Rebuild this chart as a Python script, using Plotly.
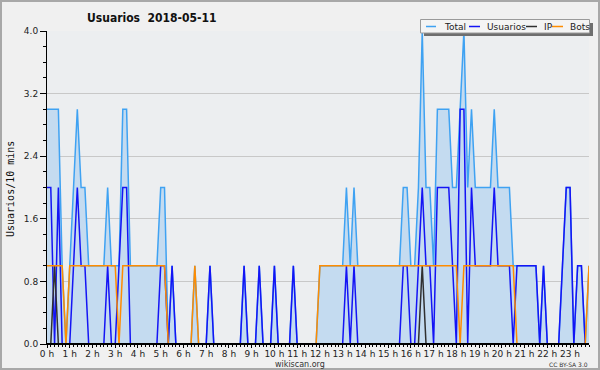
import plotly.graph_objects as go
import pandas as pd

# ---------------- data ----------------
TIMES = pd.date_range("2018-05-11 00:00", periods=144, freq="10min")
HOUR_TICKS = pd.date_range("2018-05-11 00:00", periods=24, freq="1h")
HOUR_LABELS = ["0 h", "1 h", "2 h", "3 h", "4 h", "5 h", "6 h", "7 h", "8 h", "9 h",
               "10 h", "11 h", "12 h", "13 h", "14 h", "15 h", "16 h", "17 h", "18 h",
               "19 h", "20 h", "21 h", "22 h", "23 h"]
Y_TICKS = [0.0, 0.8, 1.6, 2.4, 3.2, 4.0]

TOTAL = [3, 3, 3, 3, 1, 0, 1, 2, 3, 2,
         2, 1, 1, 1, 1, 1, 2, 1, 1, 1,
         3, 3, 1, 1, 1, 1, 1, 1, 1, 1,
         2, 2, 0, 1, 0, 0, 0, 0, 0, 1,
         0, 0, 0, 1, 0, 0, 0, 0, 0, 0,
         0, 0, 1, 0, 0, 0, 1, 0, 0, 0,
         1, 0, 0, 0, 0, 1, 0, 0, 0, 0,
         0, 0, 1, 1, 1, 1, 1, 1, 1, 2,
         1, 2, 1, 1, 1, 1, 1, 1, 1, 1,
         1, 1, 1, 1, 2, 2, 1, 1, 2, 4,
         2, 2, 1, 3, 3, 3, 3, 2, 2, 3,
         4, 2, 3, 2, 2, 2, 2, 2, 3, 2,
         2, 2, 2, 1, 1, 1, 1, 1, 1, 1,
         0, 1, 0, 0, 0, 0, 1, 2, 2, 0,
         1, 1, 0, 1]

USUARIOS = [2, 2, 0, 2, 0, 0, 0, 1, 2, 1,
            1, 0, 0, 0, 0, 0, 1, 0, 0, 1,
            2, 2, 0, 0, 0, 0, 0, 0, 0, 0,
            1, 1, 0, 1, 0, 0, 0, 0, 0, 0,
            0, 0, 0, 1, 0, 0, 0, 0, 0, 0,
            0, 0, 1, 0, 0, 0, 1, 0, 0, 0,
            1, 0, 0, 0, 0, 1, 0, 0, 0, 0,
            0, 0, 0, 0, 0, 0, 0, 0, 0, 1,
            0, 1, 0, 0, 0, 0, 0, 0, 0, 0,
            0, 0, 0, 0, 1, 1, 0, 0, 1, 2,
            1, 1, 0, 2, 2, 2, 2, 1, 0, 3,
            3, 0, 2, 1, 1, 1, 1, 1, 2, 1,
            1, 1, 1, 0, 1, 1, 1, 1, 1, 1,
            0, 1, 0, 0, 0, 0, 1, 2, 2, 0,
            1, 1, 0, 0]

IP = [0, 0, 1, 0, 0, 0, 0, 0, 0, 0,
      0, 0, 0, 0, 0, 0, 0, 0, 0, 0,
      0, 0, 0, 0, 0, 0, 0, 0, 0, 0,
      0, 0, 0, 0, 0, 0, 0, 0, 0, 0,
      0, 0, 0, 0, 0, 0, 0, 0, 0, 0,
      0, 0, 0, 0, 0, 0, 0, 0, 0, 0,
      0, 0, 0, 0, 0, 0, 0, 0, 0, 0,
      0, 0, 0, 0, 0, 0, 0, 0, 0, 0,
      0, 0, 0, 0, 0, 0, 0, 0, 0, 0,
      0, 0, 0, 0, 0, 0, 0, 0, 0, 1,
      0, 0, 0, 0, 0, 0, 0, 0, 0, 0,
      0, 0, 0, 0, 0, 0, 0, 0, 0, 0,
      0, 0, 0, 0, 0, 0, 0, 0, 0, 0,
      0, 0, 0, 0, 0, 0, 0, 0, 0, 0,
      0, 0, 0, 0]

BOTS = [1, 1, 1, 1, 1, 0, 1, 1, 1, 1,
        1, 1, 1, 1, 1, 1, 1, 1, 1, 0,
        1, 1, 1, 1, 1, 1, 1, 1, 1, 1,
        1, 1, 0, 0, 0, 0, 0, 0, 0, 1,
        0, 0, 0, 0, 0, 0, 0, 0, 0, 0,
        0, 0, 0, 0, 0, 0, 0, 0, 0, 0,
        0, 0, 0, 0, 0, 0, 0, 0, 0, 0,
        0, 0, 1, 1, 1, 1, 1, 1, 1, 1,
        1, 1, 1, 1, 1, 1, 1, 1, 1, 1,
        1, 1, 1, 1, 1, 1, 1, 1, 1, 1,
        1, 1, 1, 1, 1, 1, 1, 1, 1, 0,
        1, 1, 1, 1, 1, 1, 1, 1, 1, 1,
        1, 1, 1, 1, 0, 0, 0, 0, 0, 0,
        0, 0, 0, 0, 0, 0, 0, 0, 0, 0,
        0, 0, 0, 1]

SERIES = [("Total", "#3FA2F2"), ("Usuarios", "#1414F5"), ("IP", "#303030"), ("Bots", "#FF8C00")]

# ---------------- layout geometry ----------------
W, H = 600, 370
L, R, T, B = 47, 11, 31, 26
PW, PH = W - L - R, H - T - B


def px(x):
    return (x - L) / PW


def py(y):
    return 1 - (y - T) / PH


FONT = "DejaVu Sans"
COND = "DejaVu Sans Condensed, DejaVu Sans"

fig = go.Figure()
fig.add_trace(go.Scatter(x=TIMES, y=TOTAL, mode="lines", name="Total",
                         line=dict(color=SERIES[0][1], width=1.5),
                         fill="tozeroy", fillcolor="#C4DBF0"))
fig.add_trace(go.Scatter(x=TIMES, y=USUARIOS, mode="lines", name="Usuarios",
                         line=dict(color=SERIES[1][1], width=1.5)))
fig.add_trace(go.Scatter(x=TIMES, y=IP, mode="lines", name="IP",
                         line=dict(color=SERIES[2][1], width=1.5)))
fig.add_trace(go.Scatter(x=TIMES, y=BOTS, mode="lines", name="Bots",
                         line=dict(color=SERIES[3][1], width=1.5)))

shapes = []
annotations = []

# x axis baseline drawn above the traces (hides series lying at zero)
shapes.append(dict(type="line", xref="paper", yref="y", x0=0, x1=1, y0=0, y1=0,
                   line=dict(color="#000000", width=2), layer="above"))

# outer border
shapes.append(dict(type="rect", xref="paper", yref="paper",
                   x0=px(1), x1=px(599), y0=py(369), y1=py(1),
                   line=dict(color="#A8A8A8", width=2), fillcolor="rgba(0,0,0,0)", layer="above"))

# legend box with shadow
shapes.append(dict(type="rect", xref="paper", yref="paper",
                   x0=px(424), x1=px(593), y0=py(36), y1=py(23),
                   line=dict(width=0), fillcolor="#6E6E6E", layer="above"))
shapes.append(dict(type="rect", xref="paper", yref="paper",
                   x0=px(420.5), x1=px(589.5), y0=py(33), y1=py(19.5),
                   line=dict(color="#9A9A9A", width=1), fillcolor="#F4F4F4", layer="above"))
leg_items = [(426, 436, 442), (469, 480, 484.5), (526, 537, 541.5), (552, 563, 567.5)]
LEG_Y = 26.5
for (name, color), (s0, s1, tx) in zip(SERIES, leg_items):
    shapes.append(dict(type="line", xref="paper", yref="paper",
                       x0=px(s0), x1=px(s1), y0=py(LEG_Y), y1=py(LEG_Y),
                       line=dict(color=color, width=1.5), layer="above"))
    annotations.append(dict(text=name, xref="paper", yref="paper", x=px(tx), y=py(LEG_Y),
                            xanchor="left", yanchor="middle", showarrow=False,
                            font=dict(family=FONT, size=9, color="#222222")))

# title
annotations.append(dict(text="Usuarios\u00a0 2018-05-11", xref="paper", yref="paper",
                        x=px(85), y=py(18.5), xanchor="left", yanchor="middle", showarrow=False,
                        font=dict(family=COND, size=12, color="#111111", weight="bold")))
# y-axis title
annotations.append(dict(text="Usuarios/10 mins", xref="paper", yref="paper",
                        x=px(10), y=py(189), xanchor="center", yanchor="middle", showarrow=False,
                        textangle=-90, font=dict(family="DejaVu Sans Mono", size=10, color="#111111")))
# footer
annotations.append(dict(text="wikiscan.org", xref="paper", yref="paper",
                        x=px(300), y=py(364.5), xanchor="center", yanchor="middle", showarrow=False,
                        font=dict(family=FONT, size=8, color="#333333")))
annotations.append(dict(text="CC BY-SA 3.0", xref="paper", yref="paper",
                        x=px(590), y=py(364.5), xanchor="right", yanchor="middle", showarrow=False,
                        font=dict(family=FONT, size=6, color="#333333")))

fig.update_layout(
    width=W, height=H,
    margin=dict(l=L, r=R, t=T, b=B, pad=0),
    paper_bgcolor="#F0F0F0",
    plot_bgcolor="#ECEEF0",
    showlegend=False,
    shapes=shapes,
    annotations=annotations,
    font=dict(family=FONT, size=9, color="#222222"),
)
fig.update_xaxes(
    range=[TIMES[0], TIMES[-1]],
    tickvals=HOUR_TICKS, ticktext=HOUR_LABELS,
    ticks="outside", ticklen=3, tickcolor="#000000", tickwidth=1,
    ticklabelstandoff=-2,
    showgrid=False, zeroline=False,
    showline=True, linecolor="#000000", linewidth=1,
    tickfont=dict(family=FONT, size=9, color="#222222"),
    minor=dict(dtick=600000, tick0=TIMES[0], ticks="outside", ticklen=2,
               tickcolor="#000000", showgrid=False),
)
fig.update_yaxes(
    range=[0, 4],
    tickvals=Y_TICKS, ticktext=[f"{v:.1f}" for v in Y_TICKS],
    ticks="outside", ticklen=6, tickcolor="#000000", tickwidth=1,
    showgrid=True, gridcolor="#C8C8C8", gridwidth=1,
    zeroline=False,
    showline=True, linecolor="#000000", linewidth=1,
    tickfont=dict(family=FONT, size=9, color="#222222"),
    minor=dict(dtick=0.2, tick0=0, ticks="outside", ticklen=3,
               tickcolor="#000000", showgrid=False),
)

fig.write_html("out.html",
               config={"displayModeBar": False},
               post_script="document.body.style.margin='0';document.body.style.padding='0';")
